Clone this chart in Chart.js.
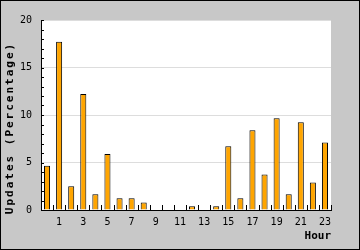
<!DOCTYPE html>
<html lang="en">
<head>
    <style>
        body {
            margin: 0;
            background-color: #c8c8c8;
        }

        #chartBox {
            width: 360px;
            height: 250px;
        }
    </style>
</head>
<body>

<div id="chartBox">
    <canvas id="updatesChart"></canvas>
</div>

<script src="https://cdn.jsdelivr.net/npm/chart.js"></script>
<script>
    // Hourly update share
    const hours = ['0', '1', '2', '3', '4', '5', '6', '7', '8', '9', '10', '11',
                   '12', '13', '14', '15', '16', '17', '18', '19', '20', '21', '22', '23'];
    const updates = [4.65, 17.7, 2.5, 12.2, 1.65, 5.9, 1.25, 1.25, 0.8, 0, 0, 0,
                     0.4, 0, 0.4, 6.7, 1.25, 8.4, 3.75, 9.65, 1.65, 9.25, 2.9, 7.1];
    const yTicks = [0, 5, 10, 15, 20];

    const monoFont = "'DejaVu Sans Mono', monospace";

    // white plot area, outer black frame and the rotated y title
    const framePlugin = {
        id: 'frame',
        beforeDraw(chart) {
            const { ctx, chartArea } = chart;
            ctx.save();
            ctx.fillStyle = '#ffffff';
            ctx.fillRect(chartArea.left, chartArea.top,
                         chartArea.right - chartArea.left, chartArea.bottom - chartArea.top);
            ctx.restore();
        },
        afterDraw(chart) {
            const { ctx, chartArea } = chart;
            const x = chart.scales.x;
            const y = chart.scales.y;

            ctx.save();
            ctx.strokeStyle = '#000';
            ctx.lineWidth = 1;
            ctx.beginPath();

            // x ticks on category boundaries, pointing inward
            const half = (x.getPixelForValue(1) - x.getPixelForValue(0)) / 2;
            for (let i = 1; i <= hours.length; i++) {
                const px = Math.round(x.getPixelForValue(i - 1) + half) + 0.5;
                ctx.moveTo(px, chartArea.bottom);
                ctx.lineTo(px, chartArea.bottom - 5);
            }

            // y ticks every unit, pointing inward
            y.ticks.forEach(t => {
                const py = Math.round(y.getPixelForValue(t.value)) + 0.5;
                ctx.moveTo(chartArea.left, py);
                ctx.lineTo(chartArea.left + 3, py);
            });
            ctx.stroke();

            // outer frame
            ctx.strokeRect(0.5, 0.5, chart.width - 1, chart.height - 1);

            // y axis title
            ctx.translate(10, 128);
            ctx.rotate(-Math.PI / 2);
            ctx.font = 'bold 11px ' + monoFont;
            ctx.letterSpacing = '2px';
            ctx.fillStyle = '#000';
            ctx.textAlign = 'center';
            ctx.textBaseline = 'middle';
            ctx.fillText('Updates (Percentage)', 0, 0);
            ctx.restore();
        }
    };

    const ctx = document.getElementById('updatesChart').getContext('2d');

    new Chart(ctx, {
        type: 'bar',
        data: {
            labels: hours,
            datasets: [
                {
                    label: 'Updates',
                    data: updates,
                    backgroundColor: '#ffa500',
                    borderColor: '#000000',
                    borderWidth: 1,
                    barPercentage: 0.5,
                    categoryPercentage: 1
                }
            ]
        },
        options: {
            responsive: true,
            maintainAspectRatio: false,
            animation: false,
            layout: {
                padding: { top: 20, right: 29, left: 0, bottom: 0 }
            },
            plugins: {
                legend: { display: false },
                tooltip: { enabled: false }
            },
            scales: {
                x: {
                    afterFit: scale => { scale.height = 40; },
                    grid: { color: 'transparent', drawTicks: false, offset: true },
                    border: { color: '#000', width: 1 },
                    ticks: {
                        autoSkip: false,
                        maxRotation: 0,
                        padding: 6,
                        color: '#000',
                        font: { family: monoFont, size: 10 },
                        callback: function (value, index) {
                            return index % 2 === 1 ? this.getLabelForValue(value) : '';
                        }
                    },
                    title: {
                        display: true,
                        text: 'Hour',
                        align: 'end',
                        color: '#000',
                        padding: { top: 0, bottom: 7 },
                        font: { family: monoFont, size: 11, weight: 'bold' }
                    }
                },
                y: {
                    min: 0,
                    max: 20,
                    afterFit: scale => { scale.width = 41; },
                    grid: {
                        drawTicks: false,
                        color: c => (c.tick && c.tick.value % 5 === 0 && c.tick.value > 0) ? '#dddddd' : 'transparent'
                    },
                    border: { color: '#000', width: 1 },
                    ticks: {
                        stepSize: 1,
                        autoSkip: false,
                        padding: 9,
                        color: '#000',
                        font: { family: monoFont, size: 10 },
                        callback: value => yTicks.includes(value) ? value : ''
                    }
                }
            }
        },
        plugins: [framePlugin]
    });
</script>

</body>
</html>
